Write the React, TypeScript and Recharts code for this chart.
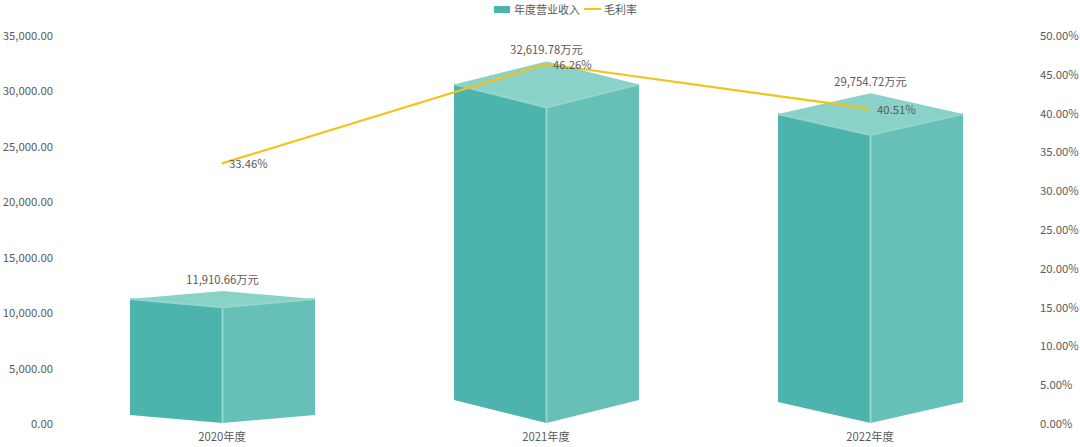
import { Bar, ComposedChart, LabelList, Legend, Line, XAxis, YAxis } from 'recharts';

const years = ['2020年度', '2021年度', '2022年度'];
const revenue = [11910.66, 32619.78, 29754.72];
const grossMargin = [33.46, 46.26, 40.51];
const revenueTicks = [0, 5000, 10000, 15000, 20000, 25000, 30000, 35000];
const marginTicks = [0, 5, 10, 15, 20, 25, 30, 35, 40, 45, 50];

const chartData = years.map((year, i) => ({
  year,
  revenue: revenue[i],
  margin: grossMargin[i],
}));

const FONT = '"Noto Sans CJK SC", "Noto Sans", sans-serif';
const TEXT = '#595959';

const money = (v: number) =>
  v.toLocaleString('en-US', { minimumFractionDigits: 2, maximumFractionDigits: 2 });

// 3D looking column: the diamond's back corner sits on the value
function CubeBar(props: any) {
  const { x, y, width, height } = props;
  const cx = x + width / 2;
  const right = x + width;
  const bottom = y + height;
  const d = height * 0.065 - 0.5;
  return (
    <g>
      <path d={`M${x} ${y + d}L${cx} ${y + 2 * d}L${cx} ${bottom}L${x} ${bottom - d}Z`} fill='#4db4ad' />
      <path d={`M${cx} ${y + 2 * d}L${right} ${y + d}L${right} ${bottom - d}L${cx} ${bottom}Z`} fill='#66c0b7' />
      <path d={`M${x} ${y + d}L${cx} ${y}L${right} ${y + d}L${cx} ${y + 2 * d}Z`} fill='#8ad1c7' />
      <path
        d={`M${x} ${y + d}L${cx} ${y + 2 * d}L${right} ${y + d}M${cx} ${y + 2 * d}L${cx} ${bottom}`}
        fill='none'
        stroke='#94d6cc'
        strokeWidth={2}
      />
    </g>
  );
}

function LegendRow() {
  return (
    <div
      style={{
        position: 'absolute',
        top: 2,
        left: 494,
        height: 14,
        display: 'flex',
        alignItems: 'center',
        fontFamily: FONT,
        fontSize: 11,
        color: TEXT,
        whiteSpace: 'nowrap',
      }}
    >
      <span style={{ width: 16, height: 7, background: '#4db4ad', marginRight: 4 }} />
      <span>年度营业收入</span>
      <span style={{ width: 17, height: 2, background: '#f2c318', margin: '0 3px 0 4px' }} />
      <span>毛利率</span>
    </div>
  );
}

export default function App() {
  return (
    <div style={{ position: 'absolute', left: 0, top: 0, width: 1080, height: 447, background: '#fff' }}>
      <ComposedChart
        width={1080}
        height={447}
        data={chartData}
        margin={{ top: 35, right: 0, bottom: 0, left: 0 }}
        style={{ fontFamily: FONT }}
      >
        <XAxis
          dataKey='year'
          height={24}
          axisLine={false}
          tickLine={false}
          tick={{ fontSize: 11.3, fill: TEXT }}
          tickMargin={4}
        />
        <YAxis
          yAxisId='left'
          width={60}
          domain={[0, 35000]}
          ticks={revenueTicks}
          tickFormatter={money}
          axisLine={false}
          tickLine={false}
          tick={{ fontSize: 11.3, fill: TEXT, dy: 1 }}
          tickMargin={1}
        />
        <YAxis
          yAxisId='right'
          orientation='right'
          width={48}
          domain={[0, 50]}
          ticks={marginTicks}
          tickFormatter={(v: number) => `${v.toFixed(2)}%`}
          axisLine={false}
          tickLine={false}
          tick={{ fontSize: 11.3, fill: TEXT, dy: 1 }}
          tickMargin={2}
        />
        <Legend verticalAlign='top' content={<LegendRow />} wrapperStyle={{ top: 0, left: 0 }} />
        <Bar
          yAxisId='left'
          dataKey='revenue'
          name='年度营业收入'
          barSize={185}
          shape={<CubeBar />}
          isAnimationActive={false}
        >
          <LabelList
            dataKey='revenue'
            position='top'
            offset={7}
            formatter={(v: number) => `${money(v)}万元`}
            style={{ fontSize: 11.3, fill: TEXT }}
          />
        </Bar>
        <Line
          yAxisId='right'
          dataKey='margin'
          name='毛利率'
          stroke='#f2c318'
          strokeWidth={2.2}
          dot={false}
          isAnimationActive={false}
        >
          <LabelList
            dataKey='margin'
            position='right'
            offset={7}
            dy={1}
            formatter={(v: number) => `${v.toFixed(2)}%`}
            style={{ fontSize: 11.3, fill: TEXT }}
          />
        </Line>
      </ComposedChart>
    </div>
  );
}
